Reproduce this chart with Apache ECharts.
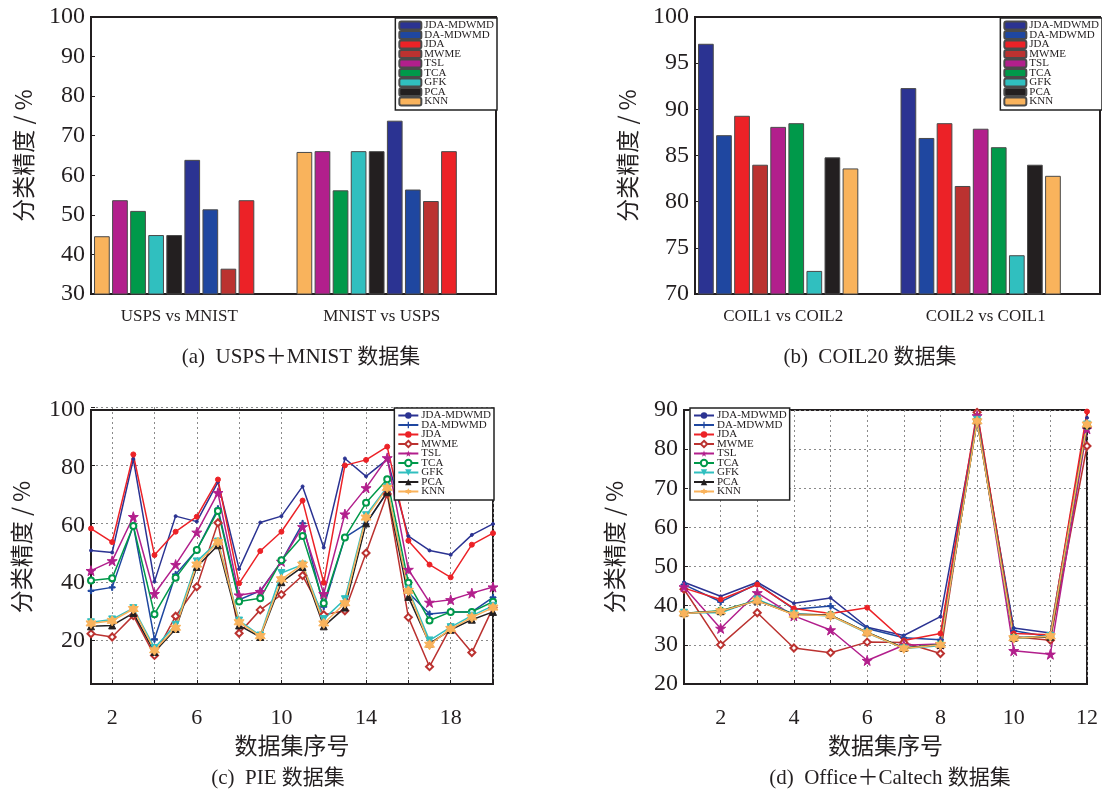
<!DOCTYPE html>
<html>
<head>
<meta charset="utf-8">
<script src="https://cdn.jsdelivr.net/npm/echarts@6/dist/echarts.min.js"></script>
<style>
html, body { margin: 0; padding: 0; background: #fff; }
#wrap { position: relative; width: 1102px; height: 796px; }
.pane { position: absolute; width: 551px; height: 398px; }
</style>
</head>
<body>
<div id="wrap">
	<div id="pa" class="pane" style="left:0;top:0"></div>
	<div id="pb" class="pane" style="left:551px;top:0"></div>
	<div id="pc" class="pane" style="left:0;top:398px"></div>
	<div id="pd" class="pane" style="left:551px;top:398px"></div>
</div>
<script>
// methods, legend order
var methods = ['JDA-MDWMD', 'DA-MDWMD', 'JDA', 'MWME', 'TSL', 'TCA', 'GFK', 'PCA', 'KNN'];

// (a) USPS+MNIST, bars drawn in this order
var catsA = ['USPS vs MNIST', 'MNIST vs USPS'];
var orderA = ['KNN', 'TSL', 'TCA', 'GFK', 'PCA', 'JDA-MDWMD', 'DA-MDWMD', 'MWME', 'JDA'];
var uspsMnist = [44.6, 53.7, 51.0, 44.9, 44.9, 63.9, 51.4, 36.4, 53.7];
var mnistUsps = [65.9, 66.1, 56.2, 66.1, 66.1, 73.8, 56.4, 53.5, 66.1];

// (b) COIL20, same order as methods
var catsB = ['COIL1 vs COIL2', 'COIL2 vs COIL1'];
var coil12 = [97.1, 87.2, 89.3, 84.0, 88.1, 88.5, 72.5, 84.8, 83.6];
var coil21 = [92.3, 86.9, 88.5, 81.7, 87.9, 85.9, 74.2, 84.0, 82.8];

// (c) PIE, datasets 1..20
var pieX = [1, 2, 3, 4, 5, 6, 7, 8, 9, 10, 11, 12, 13, 14, 15, 16, 17, 18, 19, 20];
var pieJdaMdwmd = [51.3, 50.6, 83.0, 40.5, 63.2, 61.3, 75.0, 44.9, 61.0, 63.2, 73.5, 52.3, 83.2, 77.0, 82.9, 56.3, 51.3, 49.8, 56.7, 60.5];
var pieDaMdwmd = [37.3, 38.5, 60.0, 20.5, 43.0, 51.5, 65.8, 34.2, 37.3, 47.5, 60.7, 31.8, 55.8, 60.5, 71.5, 36.7, 29.3, 30.0, 30.0, 35.0];
var pieJda = [58.9, 54.2, 84.6, 49.7, 57.8, 63.0, 75.9, 39.9, 51.1, 57.8, 68.6, 40.1, 80.8, 82.7, 87.3, 54.7, 46.4, 42.0, 53.3, 57.3];
var pieMwme = [22.4, 21.3, 28.7, 14.9, 28.5, 38.7, 60.9, 22.6, 30.7, 36.0, 42.6, 29.0, 30.4, 50.4, 70.9, 28.1, 11.0, 24.7, 15.9, 31.5];
var pieTsl = [44.3, 47.7, 63.0, 36.3, 46.4, 57.6, 71.3, 35.8, 37.0, 47.5, 59.5, 36.3, 63.9, 73.0, 83.4, 44.7, 33.3, 34.2, 36.5, 38.6];
var pieTca = [40.9, 41.7, 59.8, 29.2, 41.8, 51.5, 65.0, 33.6, 34.7, 47.9, 56.3, 33.0, 55.8, 67.8, 76.0, 40.1, 27.0, 30.0, 30.0, 33.5];
var pieGfk = [26.4, 27.4, 31.3, 17.5, 25.5, 47.5, 54.4, 27.0, 21.8, 43.5, 46.4, 27.5, 34.4, 63.5, 73.3, 37.8, 20.1, 24.7, 28.7, 32.1];
var piePca = [25.0, 25.3, 29.6, 16.1, 24.1, 45.6, 53.1, 25.3, 21.3, 40.3, 45.6, 25.0, 31.5, 60.7, 71.5, 35.2, 19.0, 23.8, 27.3, 30.0];
var pieKnn = [26.0, 26.9, 31.0, 16.7, 24.5, 46.4, 54.2, 26.4, 21.6, 41.3, 46.4, 26.0, 33.0, 62.7, 73.0, 37.3, 18.6, 24.1, 28.1, 31.5];

// (d) Office+Caltech, datasets 1..12
var ocX = [1, 2, 3, 4, 5, 6, 7, 8, 9, 10, 11, 12];
var ocJdaMdwmd = [46.0, 42.4, 46.0, 40.6, 42.0, 34.5, 32.4, 37.2, 88.0, 34.3, 33.0, 88.0];
var ocDaMdwmd = [45.4, 41.0, 45.6, 39.1, 39.9, 34.2, 31.8, 31.3, 87.8, 33.6, 32.0, 86.8];
var ocJda = [44.5, 41.6, 45.4, 39.3, 38.0, 39.5, 31.1, 32.9, 89.6, 32.9, 32.6, 89.6];
var ocMwme = [44.2, 30.0, 38.2, 29.2, 28.0, 30.7, 30.6, 27.8, 89.4, 32.1, 31.2, 80.8];
var ocTsl = [44.8, 34.2, 43.3, 37.4, 33.8, 26.0, 29.9, 30.2, 88.5, 28.5, 27.6, 85.2];
var ocTca = [38.1, 38.7, 41.4, 37.8, 37.6, 33.2, 29.2, 30.1, 87.3, 31.8, 32.0, 86.0];
var ocGfk = [38.2, 38.2, 41.6, 37.9, 37.4, 33.0, 29.1, 29.8, 87.5, 31.6, 32.3, 86.3];
var ocPca = [38.1, 38.6, 41.3, 37.8, 37.6, 33.2, 29.2, 30.0, 87.3, 31.8, 32.1, 86.2];
var ocKnn = [38.0, 38.6, 41.3, 37.7, 37.5, 33.1, 29.1, 30.0, 87.1, 31.7, 32.2, 86.3];

var colors = {
	'JDA-MDWMD': '#2b3392',
	'DA-MDWMD': '#1f47a0',
	'JDA': '#ec2227',
	'MWME': '#bb3230',
	'TSL': '#b21f8c',
	'TCA': '#00994a',
	'GFK': '#30bfbf',
	'PCA': '#231f20',
	'KNN': '#f9b35c'
};
var markers = {
	'JDA-MDWMD': ['circle', 3],
	'DA-MDWMD': ['path://M40,0H60V40H100V60H60V100H40V60H0V40H40Z', 6],
	'JDA': ['circle', 5],
	'MWME': ['emptyDiamond', 7],
	'TSL': ['path://M50,0L61,35L98,35L68,57L79,91L50,70L21,91L32,57L2,35L39,35Z', 10],
	'TCA': ['emptyCircle', 6],
	'GFK': ['path://M0,0H100L50,87Z', 7],
	'PCA': ['triangle', 7],
	'KNN': ['path://M50,0L64,25L93,25L78,50L93,75L64,75L50,100L36,75L7,75L22,50L7,25L36,25Z', 10]
};

var serif = "'Liberation Serif', 'Noto Sans CJK SC', serif";
var cjk = "'Noto Sans CJK SC', sans-serif";
var ink = '#231f20';
var dotted = '#8a8a8a';
var gridLine = { show: true, lineStyle: { type: [2, 3], width: 1, color: dotted } };
var inTick = { show: true, inside: true, length: 4, lineStyle: { color: ink } };

function caption(x, y, text) {
	return {
		type: 'text', x: x, y: y, silent: true,
		style: { text: text, font: '21px ' + serif, fill: ink, align: 'center', verticalAlign: 'middle' }
	};
}

function makeLegend(pos, itemW) {
	var lg = {
		orient: 'vertical',
		data: methods,
		itemWidth: itemW,
		itemHeight: 8,
		itemGap: -1.5,
		padding: [2, 3, 3, 3],
		borderColor: '#222',
		borderWidth: 1.5,
		backgroundColor: '#fff',
		textStyle: { fontFamily: serif, fontSize: 11, color: ink, padding: [0, 0, 0, -2] }
	};
	for (var k in pos) lg[k] = pos[k];
	return lg;
}

function barSeries(order, g1, g2) {
	var list = [];
	for (var i = 0; i < order.length; i++) {
		list.push({
			name: order[i],
			type: 'bar',
			data: [g1[i], g2[i]],
			barGap: '15%',
			barCategoryGap: '3%',
			itemStyle: { color: colors[order[i]], borderColor: '#4a4a4a', borderWidth: 1 }
		});
	}
	// two empty slots so each group sits on the left of its category, as in the figure
	list.push({ name: 'pad1', type: 'bar', data: ['-', '-'], barGap: '15%', barCategoryGap: '3%', silent: true });
	list.push({ name: 'pad2', type: 'bar', data: ['-', '-'], barGap: '15%', barCategoryGap: '3%', silent: true });
	return list;
}

function barOption(grid, cats, ymin, ymax, step, series, legendPos, cap) {
	return {
		animation: false,
		grid: grid,
		legend: makeLegend(legendPos, 22),
		xAxis: {
			type: 'category',
			data: cats,
			axisLine: { lineStyle: { color: ink, width: 2 } },
			axisTick: { show: false },
			axisLabel: { fontFamily: serif, fontSize: 17, color: ink, margin: 14, padding: [0, 26, 0, 0] }
		},
		yAxis: {
			type: 'value', min: ymin, max: ymax, interval: step,
			name: '分类精度 / %',
			nameLocation: 'middle',
			nameGap: 56,
			nameTextStyle: { fontFamily: cjk, fontSize: 23, color: ink },
			axisLine: { show: true, lineStyle: { color: ink, width: 2 } },
			axisTick: inTick,
			axisLabel: { fontFamily: serif, fontSize: 24, color: ink, margin: 6 },
			splitLine: { show: false }
		},
		graphic: [cap],
		series: series
	};
}

function lineSeries(xs, arrs) {
	var list = [];
	for (var i = 0; i < methods.length; i++) {
		var m = methods[i];
		var pts = [];
		for (var j = 0; j < xs.length; j++) pts.push([xs[j], arrs[i][j]]);
		list.push({
			name: m,
			type: 'line',
			data: pts,
			symbol: markers[m][0],
			symbolSize: markers[m][1],
			lineStyle: { color: colors[m], width: 1.5 },
			itemStyle: { color: colors[m], borderColor: colors[m] }
		});
	}
	return list;
}

var axisName = { fontFamily: cjk, fontSize: 23, color: ink };
var axisLineStyle = { show: true, lineStyle: { color: ink, width: 2 } };

// (a)
var chartA = echarts.init(document.getElementById('pa'));
chartA.setOption(barOption(
	{ left: 91, top: 17, right: 55, bottom: 104, show: true, borderColor: ink, borderWidth: 2 },
	catsA, 30, 100, 10,
	barSeries(orderA, uspsMnist, mnistUsps),
	{ right: 54, top: 18 },
	caption(301, 357, '(a)  USPS＋MNIST 数据集')
));

// (b)
var chartB = echarts.init(document.getElementById('pb'));
chartB.setOption(barOption(
	{ left: 144, top: 17, right: 2, bottom: 104, show: true, borderColor: ink, borderWidth: 2 },
	catsB, 70, 100, 5,
	barSeries(methods, coil12, coil21),
	{ right: 0, top: 18 },
	caption(319, 357, '(b)  COIL20 数据集')
));

// (c): the axis runs 1..20 and 5..100, but the dotted grid sits on 2,4,..,20 and 20,40,..,100.
// Two see-through grids are laid over the plot and trimmed so their own axes start at 2 and 20.
var cL = 91, cT = 9, cR = 58, cB = 112, cW = 551 - cL - cR, cH = 398 - cT - cB;
var xMinC = 1, xMaxC = 20, yMinC = 5, yMaxC = 100;
var shiftX = cW / (xMaxC - xMinC) * (2 - xMinC);
var shiftY = cH / (yMaxC - yMinC) * (20 - yMinC);
var hideAxis = { show: false };

var chartC = echarts.init(document.getElementById('pc'));
chartC.setOption({
	animation: false,
	grid: [
		{ left: cL, top: cT, right: cR, bottom: cB, show: true, borderColor: ink, borderWidth: 2 },
		{ left: cL + shiftX, top: cT, right: cR, bottom: cB },
		{ left: cL, top: cT, right: cR, bottom: cB + shiftY }
	],
	legend: makeLegend({ right: 57, top: 10 }, 20),
	xAxis: [{
		gridIndex: 0,
		type: 'value', min: xMinC, max: xMaxC, interval: 1,
		name: '数据集序号', nameLocation: 'middle', nameGap: 38,
		nameTextStyle: axisName,
		axisLine: axisLineStyle,
		axisTick: { show: false },
		axisLabel: {
			fontFamily: serif, fontSize: 22, color: ink, margin: 23,
			formatter: function (v) { return (v - 2) % 4 === 0 ? v : ''; }
		},
		splitLine: { show: false }
	}, {
		gridIndex: 1,
		type: 'value', min: 2, max: xMaxC, interval: 2,
		axisLine: { show: false }, axisLabel: { show: false },
		axisTick: inTick, splitLine: gridLine
	}, {
		gridIndex: 2, type: 'value', min: xMinC, max: xMaxC, show: false
	}],
	yAxis: [{
		gridIndex: 0,
		type: 'value', min: yMinC, max: yMaxC, interval: 5,
		name: '分类精度 / %', nameLocation: 'middle', nameGap: 58,
		nameTextStyle: axisName,
		axisLine: axisLineStyle,
		axisTick: { show: false },
		axisLabel: {
			fontFamily: serif, fontSize: 24, color: ink, margin: 6,
			formatter: function (v) { return v % 20 === 0 ? v : ''; }
		},
		splitLine: { show: false }
	}, {
		gridIndex: 1, type: 'value', min: yMinC, max: yMaxC, show: false
	}, {
		gridIndex: 2,
		type: 'value', min: 20, max: yMaxC, interval: 20,
		axisLine: { show: false }, axisLabel: { show: false },
		axisTick: inTick, splitLine: gridLine
	}],
	graphic: [caption(278, 380, '(c)  PIE 数据集')],
	series: lineSeries(pieX, [pieJdaMdwmd, pieDaMdwmd, pieJda, pieMwme, pieTsl, pieTca, pieGfk, piePca, pieKnn])
});

// (d)
var chartD = echarts.init(document.getElementById('pd'));
chartD.setOption({
	animation: false,
	grid: { left: 133, top: 9, right: 15, bottom: 112, show: true, borderColor: ink, borderWidth: 2 },
	legend: makeLegend({ left: 139, top: 10 }, 20),
	xAxis: {
		type: 'value', min: 1, max: 12, interval: 1,
		name: '数据集序号', nameLocation: 'middle', nameGap: 38,
		nameTextStyle: axisName,
		axisLine: axisLineStyle,
		axisTick: inTick,
		axisLabel: {
			fontFamily: serif, fontSize: 22, color: ink, margin: 23,
			formatter: function (v) { return v % 2 === 0 ? v : ''; }
		},
		splitLine: gridLine
	},
	yAxis: {
		type: 'value', min: 20, max: 90, interval: 10,
		name: '分类精度 / %', nameLocation: 'middle', nameGap: 58,
		nameTextStyle: axisName,
		axisLine: axisLineStyle,
		axisTick: inTick,
		axisLabel: { fontFamily: serif, fontSize: 24, color: ink, margin: 6 },
		splitLine: gridLine
	},
	graphic: [caption(339, 380, '(d)  Office＋Caltech 数据集')],
	series: lineSeries(ocX, [ocJdaMdwmd, ocDaMdwmd, ocJda, ocMwme, ocTsl, ocTca, ocGfk, ocPca, ocKnn])
});
</script>
</body>
</html>
